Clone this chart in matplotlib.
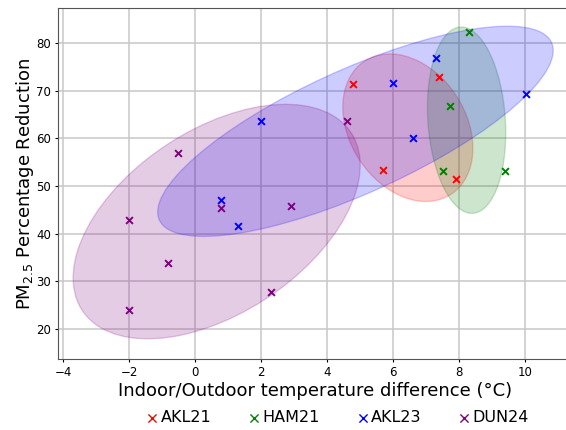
import numpy as np
import matplotlib
matplotlib.use("Agg")
import matplotlib.pyplot as plt
import matplotlib.transforms as transforms
from matplotlib.patches import Ellipse

# Data
akl21_x = [4.79, 5.70, 7.40, 7.89]
akl21_y = [71.3, 53.3, 72.8, 51.5]

ham21_x = [8.30, 7.72, 7.50, 9.38]
ham21_y = [82.2, 66.8, 53.1, 53.1]

akl23_x = [7.30, 6.00, 6.60, 10.03, 1.99, 0.79, 1.30]
akl23_y = [76.9, 71.5, 60.1, 69.4, 63.7, 47.1, 41.6]

dun24_x = [-0.51, 4.59, 0.79, 2.90, -2.00, -0.82, 2.29, -2.00]
dun24_y = [57.0, 63.6, 45.3, 45.9, 42.8, 33.9, 27.8, 24.0]

labels = ["AKL21", "HAM21", "AKL23", "DUN24"]
colors = ["red", "green", "blue", "purple"]
# how many standard deviations each shaded ellipse spans
ellipse_nstd = [1.36, 1.41, 1.70, 1.80]


# Covariance ellipse around a group of points
def confidence_ellipse(x, y, ax, n_std=2.0, **kwargs):
    x = np.asarray(x)
    y = np.asarray(y)
    cov = np.cov(x, y)
    pearson = cov[0, 1] / np.sqrt(cov[0, 0] * cov[1, 1])
    rx = np.sqrt(1 + pearson)
    ry = np.sqrt(1 - pearson)
    ell = Ellipse((0, 0), width=rx * 2, height=ry * 2, **kwargs)
    sx = np.sqrt(cov[0, 0]) * n_std
    sy = np.sqrt(cov[1, 1]) * n_std
    tr = transforms.Affine2D().rotate_deg(45).scale(sx, sy) \
        .translate(np.mean(x), np.mean(y))
    ell.set_transform(tr + ax.transData)
    return ax.add_patch(ell)


fig = plt.figure(figsize=(5.66, 4.30), dpi=100)
ax = fig.add_axes([0.1025, 0.165, 0.91, 0.816])

groups = [(akl21_x, akl21_y), (ham21_x, ham21_y),
          (akl23_x, akl23_y), (dun24_x, dun24_y)]

for (gx, gy), lab, c, k in zip(groups, labels, colors, ellipse_nstd):
    ax.scatter(gx, gy, marker="x", color=c, s=24, linewidths=1.4,
               label=lab, zorder=3)
    confidence_ellipse(gx, gy, ax, n_std=k, facecolor=c,
                       edgecolor=c, alpha=0.2, zorder=2)

ax.set_xlim(-4.15, 11.45)
ax.set_ylim(13.7, 87.3)
ax.set_xticks([-4, -2, 0, 2, 4, 6, 8, 10])
ax.set_yticks([20, 30, 40, 50, 60, 70, 80])
ax.grid(True, color="#c8c8c8", linewidth=1.1)
ax.set_axisbelow(True)
ax.tick_params(labelsize=8.5, length=2.5, pad=2.5)
for sp in ax.spines.values():
    sp.set_color("#555555")

ax.set_xlabel("Indoor/Outdoor temperature difference (°C)", fontsize=13,
              labelpad=2.5)
ax.set_ylabel("PM$_{2.5}$ Percentage Reduction", fontsize=13, labelpad=0.5)

leg = ax.legend(loc="center", bbox_to_anchor=(0.544, -0.168), ncol=4,
                frameon=False, fontsize=11.5, handlelength=0.6,
                handletextpad=0.2, columnspacing=2.4, markerscale=1.2,
                borderaxespad=0)
for h in leg.legend_handles:
    h.set_linewidth(1.0)

fig.savefig("out.png", dpi=100)
